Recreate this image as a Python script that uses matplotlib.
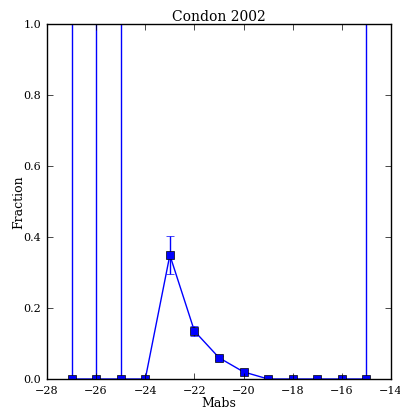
import numpy as np
import matplotlib
matplotlib.use("Agg")
import matplotlib.pyplot as plt

plt.style.use("classic")
plt.rcParams["font.family"] = "DejaVu Serif"

mabs = [-27, -26, -25, -24, -23, -22, -21, -20, -19, -18, -17, -16, -15]
fraction = [0.0, 0.0, 0.0, 0.0, 0.349, 0.135, 0.060, 0.020, 0.0, 0.0, 0.0, 0.0, 0.0]
err = [1.5, 1.5, 1.5, 0.0, 0.054, 0.013, 0.006, 0.004, 0.0, 0.0, 0.0, 0.0, 1.5]

fig = plt.figure(figsize=(4.0, 4.14), dpi=100)
ax = fig.add_axes([0.1175, 0.0821, 0.86, 0.8575])
ax.errorbar(mabs, fraction, yerr=err, color="blue", ecolor="blue", lw=1,
            elinewidth=1, capsize=3, marker="s", ms=6, mfc="blue", mec="black")
ax.set_xlim(-28, -14)
ax.set_ylim(0, 1)
ax.set_xticks(np.arange(-28, -13, 2))
ax.set_yticks([0.0, 0.2, 0.4, 0.6, 0.8, 1.0])
ax.tick_params(labelsize=8)
ax.set_xlabel("Mabs", fontsize=9, labelpad=1)
ax.set_ylabel("Fraction", fontsize=9)
ax.yaxis.set_label_coords(-0.062, 0.5)
ax.set_title("Condon 2002", fontsize=10, pad=3)

fig.savefig("out.png", dpi=100)
